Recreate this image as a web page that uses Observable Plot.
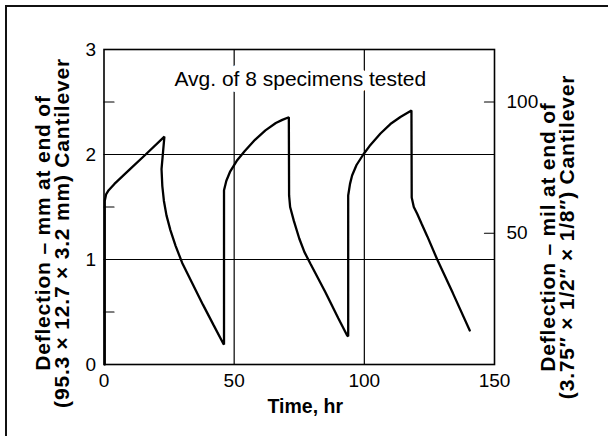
<!DOCTYPE html>
<html><head><meta charset="utf-8">
<script src="https://cdn.jsdelivr.net/npm/d3@7"></script>
<script src="https://cdn.jsdelivr.net/npm/@observablehq/plot@0.6"></script>
<style>
body{margin:0;background:#fff;}
#wrap{position:relative;width:608px;height:436px;overflow:hidden;background:#fff;}
#border{position:absolute;left:5px;top:5px;width:640px;height:470px;border-left:2px solid #111;border-top:2px solid #111;}
#wrap svg{position:absolute;left:0;top:0;}
</style></head><body><div id="wrap"><div id="border"></div></div>
<script>
// Time (hr) and deflection (mm)
const timeHr = [0.3, 0.3, 0.8, 1.8, 4, 10, 16, 23.2, 22.1, 22.4, 23.0, 24.0, 25.5, 27.5, 30, 34, 38, 42, 45.8,
  46.1, 46.1, 47, 48.5, 51, 54, 58, 62, 66, 68.5, 71,
  71.1, 71.5, 72.9, 75, 77, 79.3, 85, 90, 93.4,
  93.8, 93.8, 94.5, 95.3, 97, 99.6, 102, 106.2, 110, 114, 118.1,
  118.2, 119, 120.3, 122, 124.2, 128, 134, 140.5];
const deflMm = [0, 1.56, 1.62, 1.66, 1.72, 1.86, 2.0, 2.17, 1.86, 1.7, 1.56, 1.42, 1.28, 1.13, 0.97, 0.77, 0.57, 0.38, 0.2,
  0.19, 1.66, 1.75, 1.84, 1.94, 2.03, 2.14, 2.23, 2.3, 2.33, 2.355,
  1.61, 1.5, 1.37, 1.2, 1.07, 0.96, 0.69, 0.44, 0.276,
  0.27, 1.61, 1.72, 1.8, 1.9, 2.0, 2.08, 2.2, 2.29, 2.36, 2.42,
  1.59, 1.5, 1.435, 1.34, 1.22, 1.0, 0.68, 0.324];
const xTicks = [0, 50, 100, 150];
const yTicks = [0, 1, 2, 3];
const yMinorTicks = [0.5, 1.5, 2.5];
const xGrid = [50, 100];
const yGrid = [1, 2];
const rightTicksMil = [50, 100];
const milPerMm = 40;
const noteText = ["Avg. of 8 specimens tested"];
const noteX = [75.4];
const noteY = [2.72];
const xTitle = "Time, hr";
const yTitleLeft = ["Deflection – mm at end of", "(95.3 × 12.7 × 3.2 mm) Cantilever"];
const yTitleRight = ["Deflection – mil at end of", "(3.75″ × 1/2″ × 1/8″) Cantilever"];

const rows = timeHr.map((t, i) => ({t, d: deflMm[i]}));
const rightTicksMm = rightTicksMil.map(m => m / milPerMm);

const chart = Plot.plot({
  width: 608, height: 436,
  marginLeft: 103.5, marginRight: 114, marginTop: 49, marginBottom: 72,
  style: {fontFamily: "'Liberation Sans', Arial, sans-serif", fontSize: "19px", color: "#000", background: "transparent"},
  x: {domain: [0, 150]},
  y: {domain: [0, 3]},
  marks: [
    Plot.ruleX(xGrid, {stroke: "#000", strokeWidth: 1.2}),
    Plot.ruleY(yGrid, {stroke: "#000", strokeWidth: 1.2}),
    Plot.text(noteText, {x: noteX, y: noteY, text: noteText, fontSize: 21, fill: "#000", stroke: "white", strokeWidth: 12}),
    Plot.frame({stroke: "#000", strokeWidth: 1.6}),
    Plot.vector(yMinorTicks, {y: d => d, frameAnchor: "left", rotate: 90, length: 10, anchor: "start",
      stroke: "#000", strokeWidth: 1.2, shape: {draw(ctx, l) { ctx.moveTo(0, 0); ctx.lineTo(0, -l); }}}),
    Plot.vector(rightTicksMm, {y: d => d, frameAnchor: "right", rotate: -90, length: 10, anchor: "start",
      stroke: "#000", strokeWidth: 1.2, shape: {draw(ctx, l) { ctx.moveTo(0, 0); ctx.lineTo(0, -l); }}}),
    Plot.axisX(xTicks, {tickSize: 0, tickPadding: 9, label: null, fontSize: 19}),
    Plot.axisY(yTicks, {tickSize: 0, tickPadding: 8, label: null, fontSize: 19, tickFormat: d => String(d)}),
    Plot.axisY(rightTicksMm, {anchor: "right", tickSize: 0, tickPadding: 12,
      tickFormat: d => String(Math.round(d * milPerMm)), label: null, fontSize: 19}),
    Plot.line(rows, {x: "t", y: "d", stroke: "#000", strokeWidth: 2.3, strokeLinejoin: "miter"}),
    Plot.text([xTitle], {frameAnchor: "bottom", text: d => d, dy: 48, dx: 6, fontSize: 19.5, fontWeight: "bold"}),
    Plot.text([yTitleLeft.join("\n")], {frameAnchor: "left", text: d => d, rotate: -90, dx: -51, dy: 26,
      fontSize: 21, fontWeight: "bold", lineHeight: 0.9, textAnchor: "middle", lineAnchor: "middle"}),
    Plot.text([yTitleRight.join("\n")], {frameAnchor: "right", text: d => d, rotate: -90, dx: 63.5, dy: 30,
      fontSize: 21, fontWeight: "bold", lineHeight: 0.9, textAnchor: "middle", lineAnchor: "middle"})
  ]
});
d3.select(chart).selectAll("text")
  .filter(function() { return this.textContent.includes("Deflection"); })
  .style("letter-spacing", "0.8px");
document.getElementById("wrap").appendChild(chart);
</script>
</body></html>
